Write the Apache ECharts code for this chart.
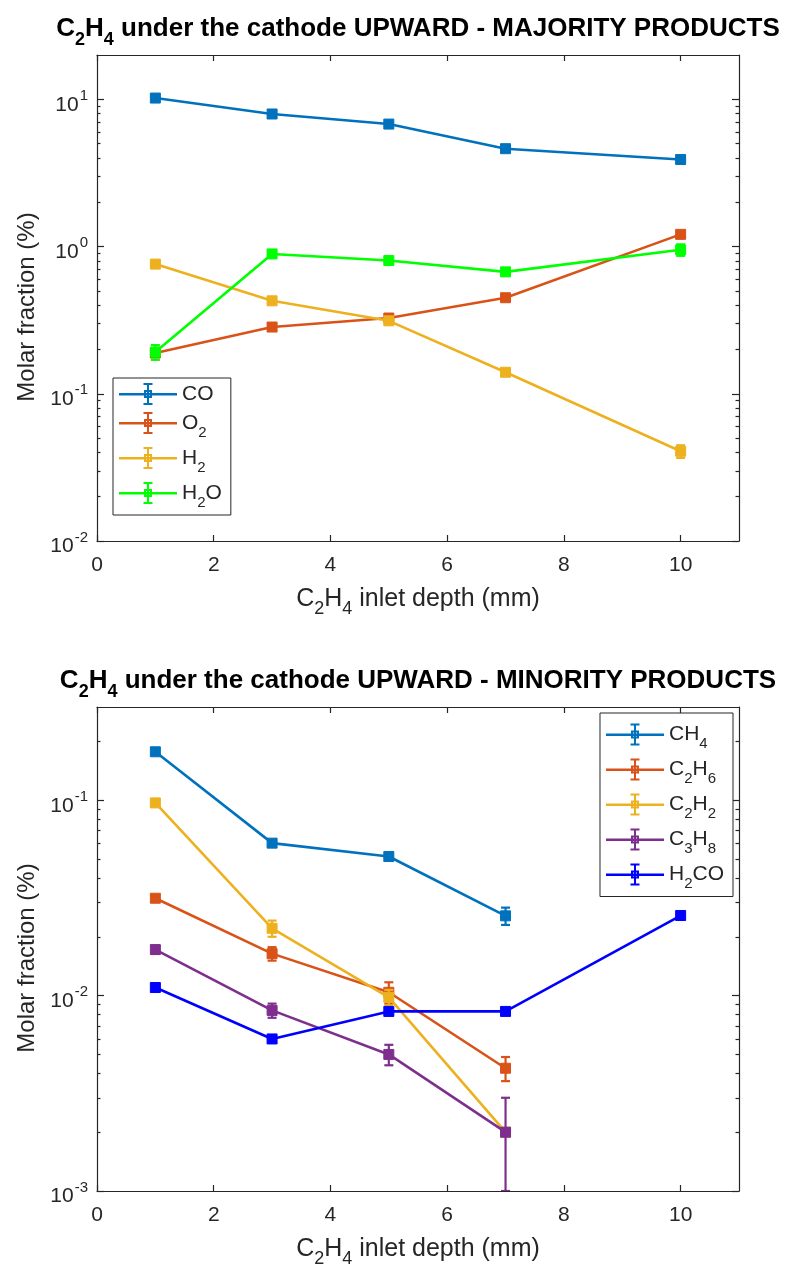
<!DOCTYPE html>
<html>
<head>
<meta charset="utf-8">
<script src="https://cdn.jsdelivr.net/npm/echarts@6/dist/echarts.min.js"></script>
<style>
  html, body { margin: 0; padding: 0; background: #ffffff; }
  #chart { width: 788px; height: 1276px; }
</style>
</head>
<body>
<div id="chart"></div>
<script>
// C2H4 inlet depth (mm) at which each sample was taken
const depth = [1, 3, 5, 7, 10];

// Majority products: molar fraction (%) and symmetric error
const majorNames = ['CO', 'O2', 'H2', 'H2O'];
const coVal  = [10.2, 7.95, 6.79, 4.62, 3.90];
const coErr  = [0.30, 0.25, 0.25, 0.20, 0.15];
const o2Val  = [0.189, 0.284, 0.327, 0.449, 1.21];
const o2Err  = [0.010, 0.012, 0.015, 0.015, 0.05];
const h2Val  = [0.760, 0.428, 0.313, 0.140, 0.0407];
const h2Err  = [0.030, 0.020, 0.015, 0.007, 0.004];
const h2oVal = [0.192, 0.891, 0.803, 0.673, 0.95];
const h2oErr = [0.022, 0.030, 0.030, 0.030, 0.085];

// Minority products (null = not measured)
const minorNames = ['CH4', 'C2H6', 'C2H2', 'C3H8', 'H2CO'];
const ch4Val  = [0.177, 0.0603, 0.0515, 0.0256, null];
const ch4Err  = [0.006, 0.0020, 0.0020, 0.0026, null];
const c2h6Val = [0.0315, 0.0164, 0.0104, 0.00425, null];
const c2h6Err = [0.0010, 0.0013, 0.0013, 0.0006, null];
const c2h2Val = [0.0969, 0.0221, 0.0098, 0.0020, null];
const c2h2Err = [0.0030, 0.0021, 0.0009, 0.0, null];
const c3h8Val = [0.0172, 0.0084, 0.0050, 0.0020, null];
const c3h8Err = [0.0008, 0.0007, 0.0006, 0.0010, null];
const h2coVal = [0.0110, 0.0060, 0.0083, 0.0083, 0.0257];
const h2coErr = [0.0004, 0.0002, 0.0003, 0.0003, 0.0007];

// Axis tick labels
const xTicks = [0, 2, 4, 6, 8, 10];
const majorYTicks = [0.01, 0.1, 1, 10];
const minorYTicks = [0.001, 0.01, 0.1];

const titles = [
  'C2H4 under the cathode UPWARD - MAJORITY PRODUCTS',
  'C2H4 under the cathode UPWARD - MINORITY PRODUCTS'
];
const xName = 'C2H4 inlet depth (mm)';
const yName = 'Molar fraction (%)';

const INK = '#262626';
const FONT = "'Liberation Sans', Arial, Helvetica, sans-serif";
const C_BLUE = '#0072BD', C_ORANGE = '#D95319', C_YELLOW = '#EDB120',
      C_GREEN = '#00FF00', C_PURPLE = '#7E2F8E', C_PURE_BLUE = '#0000FF';

const panels = [
  {
    top: 55, height: 486, yMin: 0.01, yMax: 20, yTicks: majorYTicks,
    names: majorNames,
    vals: [coVal, o2Val, h2Val, h2oVal],
    errs: [coErr, o2Err, h2Err, h2oErr],
    colors: [C_BLUE, C_ORANGE, C_YELLOW, C_GREEN],
    legend: { left: 113, top: 378 }
  },
  {
    top: 707, height: 484, yMin: 0.001, yMax: 0.3, yTicks: minorYTicks,
    names: minorNames,
    vals: [ch4Val, c2h6Val, c2h2Val, c3h8Val, h2coVal],
    errs: [ch4Err, c2h6Err, c2h2Err, c3h8Err, h2coErr],
    colors: [C_BLUE, C_ORANGE, C_YELLOW, C_PURPLE, C_PURE_BLUE],
    legend: { right: 55, top: 713 }
  }
];

// Digits become subscripts in chemical formulas
function subRich(str, n, s) {
  return str.split(/(\d+)/).filter(t => t !== '')
    .map(t => /^\d+$/.test(t) ? '{' + s + '|' + t + '}' : '{' + n + '|' + t + '}')
    .join('');
}
function legendLabel(name) {
  return /\d/.test(name) ? subRich(name, 'n', 's') : '{m|' + name + '}';
}
function powLabel(v) {
  const e = Math.round(Math.log10(v));
  return '{b|10}{p|' + e + '}';
}
function minorValues(lo, hi) {
  const out = [];
  for (let e = Math.floor(Math.log10(lo)); e <= Math.ceil(Math.log10(hi)); e++) {
    for (let k = 2; k <= 9; k++) {
      const v = k * Math.pow(10, e);
      if (v > lo * 1.0001 && v < hi * 0.9999) out.push(v);
    }
  }
  return out;
}

// Legend icon: line, error bar with caps and square marker
const ICON = 'path://M0 10H58V12.4H0Z M28 0.5H30V21.5H28Z M24.5 0H33.5V2H24.5Z M24.5 20H33.5V22H24.5Z ' +
             'M25 7H33V15H25Z M27 9V13H31V9Z';

const axisLineStyle = { color: INK, width: 1.2 };
const tickRich = {
  b: { fontSize: 21, fontFamily: FONT, color: INK, verticalAlign: 'top', padding: [6, 0, 0, 0], lineHeight: 22 },
  p: { fontSize: 15, fontFamily: FONT, color: INK, verticalAlign: 'top', padding: [0, 0, 0, 1], lineHeight: 22 }
};
const nameRich = {
  n: { fontSize: 25, fontFamily: FONT, color: INK, verticalAlign: 'top', padding: [0, 0, 0, 0], lineHeight: 36 },
  s: { fontSize: 18, fontFamily: FONT, color: INK, verticalAlign: 'top', padding: [13, 0, 0, 0], lineHeight: 36 }
};
const legendRich = {
  m: { fontSize: 21, fontFamily: FONT, color: INK, verticalAlign: 'top', padding: [2, 0, 0, 0], lineHeight: 25 },
  n: { fontSize: 21, fontFamily: FONT, color: INK, verticalAlign: 'top', padding: [7.5, 0, 0, 0], lineHeight: 36 },
  s: { fontSize: 15, fontFamily: FONT, color: INK, verticalAlign: 'top', padding: [20, 0, 0, 0], lineHeight: 36 }
};
const titleRich = {
  n: { fontSize: 26, fontWeight: 'bold', fontFamily: FONT, color: '#000', verticalAlign: 'top', padding: [0, 0, 0, 0], lineHeight: 36 },
  s: { fontSize: 18, fontWeight: 'bold', fontFamily: FONT, color: '#000', verticalAlign: 'top', padding: [15, 0, 0, 0], lineHeight: 36 }
};

const option = {
  animation: false,
  backgroundColor: '#ffffff',
  title: [], grid: [], xAxis: [], yAxis: [], legend: [], series: []
};

panels.forEach((p, pi) => {
  option.title.push({
    text: subRich(titles[pi], 'n', 's'),
    left: 418, top: p.top - 39, textAlign: 'center', padding: 0,
    textStyle: { rich: titleRich }
  });
  option.grid.push({ left: 97, top: p.top, width: 642, height: p.height, containLabel: false });

  const xi = option.xAxis.length;
  option.xAxis.push({
    gridIndex: pi, type: 'value', min: 0, max: 11, position: 'bottom',
    axisLine: { show: true, lineStyle: axisLineStyle },
    axisTick: { show: true, inside: true, length: 6, customValues: xTicks, lineStyle: axisLineStyle },
    axisLabel: { customValues: xTicks, fontSize: 21, fontFamily: FONT, color: INK, margin: 14 },
    splitLine: { show: false },
    name: subRich(xName, 'n', 's'), nameLocation: 'middle', nameGap: 46,
    nameTextStyle: { rich: nameRich }
  });
  option.xAxis.push({
    gridIndex: pi, type: 'value', min: 0, max: 11, position: 'top',
    axisLine: { show: true, lineStyle: axisLineStyle },
    axisTick: { show: true, inside: true, length: 6, customValues: xTicks, lineStyle: axisLineStyle },
    axisLabel: { show: false }, splitLine: { show: false }
  });

  const yi = option.yAxis.length;
  const minors = minorValues(p.yMin, p.yMax);
  ['left', 'right'].forEach(side => {
    option.yAxis.push({
      gridIndex: pi, type: 'log', logBase: 10, min: p.yMin, max: p.yMax, position: side,
      axisLine: { show: true, lineStyle: axisLineStyle },
      axisTick: { show: true, inside: true, length: 7, customValues: p.yTicks, lineStyle: axisLineStyle },
      axisLabel: side === 'left'
        ? { show: true, customValues: p.yTicks, formatter: powLabel, margin: 9, rich: tickRich }
        : { show: false },
      splitLine: { show: false },
      name: side === 'left' ? yName : '',
      nameLocation: 'middle', nameGap: 52, nameRotate: 90,
      nameTextStyle: { fontSize: 24, fontFamily: FONT, color: INK, padding: [0, 18, 0, 0] }
    });
    option.yAxis.push({
      gridIndex: pi, type: 'log', logBase: 10, min: p.yMin, max: p.yMax, position: side,
      axisLine: { show: false },
      axisTick: { show: true, inside: true, length: 3.5, customValues: minors, lineStyle: axisLineStyle },
      axisLabel: { show: false }, splitLine: { show: false }
    });
  });

  option.legend.push(Object.assign({
    orient: 'vertical', itemWidth: 58, itemHeight: 22, itemGap: 0,
    padding: [3.5, 9, 5, 6], borderColor: INK, borderWidth: 1, backgroundColor: '#ffffff',
    selectedMode: false,
    formatter: legendLabel,
    textStyle: { rich: legendRich },
    itemStyle: { borderWidth: 0 },
    data: p.names.map((n, i) => ({ name: n, icon: ICON, itemStyle: { color: p.colors[i], borderWidth: 0 } }))
  }, p.legend));

  p.names.forEach((name, i) => {
    const col = p.colors[i];
    const pts = [], bars = [];
    depth.forEach((x, k) => {
      const v = p.vals[i][k];
      if (v == null) return;
      pts.push([x, v]);
      const e = p.errs[i][k];
      if (e > 0) bars.push([x, v - e, v + e]);
    });
    option.series.push({
      type: 'custom', name: name + ' error', xAxisIndex: xi, yAxisIndex: yi,
      silent: true, z: 10 + i, clip: true,
      encode: { x: 0, y: [1, 2] },
      data: bars,
      renderItem: (params, api) => {
        const x = api.value(0);
        const top = api.coord([x, api.value(2)]);
        const bot = api.coord([x, api.value(1)]);
        const w = 4.5;
        const st = { stroke: col, lineWidth: 2.2 };
        return {
          type: 'group',
          children: [
            { type: 'line', shape: { x1: top[0], y1: top[1], x2: bot[0], y2: bot[1] }, style: st },
            { type: 'line', shape: { x1: top[0] - w, y1: top[1], x2: top[0] + w, y2: top[1] }, style: st },
            { type: 'line', shape: { x1: bot[0] - w, y1: bot[1], x2: bot[0] + w, y2: bot[1] }, style: st }
          ]
        };
      }
    });
    option.series.push({
      type: 'line', name: name, xAxisIndex: xi, yAxisIndex: yi,
      silent: true, z: 10 + i, data: pts,
      symbol: 'rect', symbolSize: 10,
      lineStyle: { color: col, width: 2.6 },
      itemStyle: { color: col, borderColor: col, borderWidth: 1 },
      emphasis: { disabled: true }
    });
  });
});

const chart = echarts.init(document.getElementById('chart'));
chart.setOption(option);
</script>
</body>
</html>
